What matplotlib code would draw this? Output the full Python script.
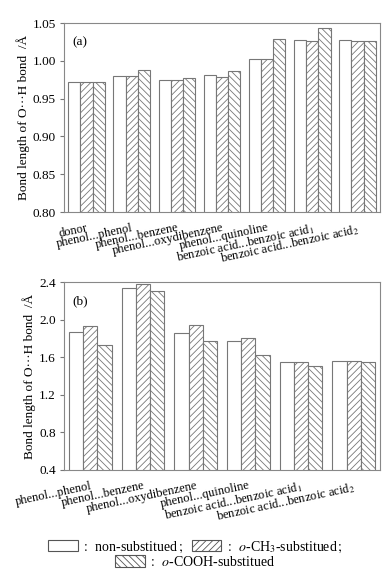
import numpy as np
import matplotlib
matplotlib.use('Agg')
import matplotlib.pyplot as plt
from matplotlib.patches import Patch

plt.rcParams['font.family'] = ['Liberation Serif', 'Noto Sans CJK SC']
plt.rcParams['mathtext.fontset'] = 'stix'
plt.rcParams['hatch.linewidth'] = 0.6
plt.rcParams['hatch.color'] = '#666666'

# panel (a): O-H bond length of the donor
cats_a = ['donor', 'phenol...phenol', 'phenol...benzene', 'phenol...oxydibenzene',
          'phenol...quinoline', 'benzoic acid...benzoic acid$_1$',
          'benzoic acid...benzoic acid$_2$']
non_a = [0.972, 0.980, 0.975, 0.981, 1.003, 1.028, 1.028]
ch3_a = [0.972, 0.980, 0.975, 0.979, 1.002, 1.026, 1.026]
cooh_a = [0.972, 0.988, 0.977, 0.987, 1.029, 1.043, 1.026]

# panel (b): O...H hydrogen bond length
cats_b = cats_a[1:]
non_b = [1.867, 2.338, 1.857, 1.772, 1.553, 1.563]
ch3_b = [1.928, 2.384, 1.945, 1.803, 1.553, 1.563]
cooh_b = [1.733, 2.300, 1.776, 1.623, 1.503, 1.553]

# mathtext can't fall back to the CJK font, so plain colon/semicolon here
series_names = ['$\\,:\\,$ non-substitued$\\,;$', '$\\,:\\,$ $o$-CH$_3$-substitued$\\,;$',
                '$\\,:\\,$ $o$-COOH-substitued']
hatches = ['', '/////', '\\\\\\\\\\']
edge = '#777777'
w = 0.27

fig = plt.figure(figsize=(3.91, 5.74), dpi=100)
ax1 = fig.add_axes([64/391, 1-212/574, 316/391, 189/574])
ax2 = fig.add_axes([64/391, 1-470/574, 316/391, 188/574])


def draw(ax, cats, data, ylim, yticks, fmt, label):
    x = np.arange(len(cats))
    for i, vals in enumerate(data):
        ax.bar(x + (i - 1) * w, vals, w, bottom=0, facecolor='white',
               edgecolor=edge, linewidth=0.8, hatch=hatches[i])
    ax.set_xlim(-0.5, len(cats) - 0.5)
    ax.set_ylim(*ylim)
    ax.set_yticks(yticks)
    ax.set_yticklabels([fmt % t for t in yticks], fontsize=9.5)
    ax.set_xticks(x)
    ax.set_xticklabels(cats, rotation=12, ha='right', rotation_mode='anchor',
                       fontsize=9)
    ax.tick_params(axis='x', length=0, pad=7)
    ax.tick_params(axis='y', direction='out', length=3, color=edge, pad=3)
    for s in ax.spines.values():
        s.set_color('#888888')
        s.set_linewidth(0.8)
    ax.set_ylabel('Bond length of O\u00b7\u00b7\u00b7H bond  /\u00c5', fontsize=9.5,
                  labelpad=2)
    ax.text(0.025, 0.9, label, transform=ax.transAxes, fontsize=9.5, va='center')


draw(ax1, cats_a, [non_a, ch3_a, cooh_a], (0.80, 1.05),
     [0.80, 0.85, 0.90, 0.95, 1.00, 1.05], '%.2f', '(a)')
draw(ax2, cats_b, [non_b, ch3_b, cooh_b], (0.4, 2.4),
     [0.4, 0.8, 1.2, 1.6, 2.0, 2.4], '%.1f', '(b)')

handles = [Patch(facecolor='white', edgecolor='#555555', linewidth=0.8, hatch=h)
           for h in hatches]
leg_kw = dict(frameon=False, fontsize=10, handlelength=2.1, handleheight=0.9,
              handletextpad=0.2, columnspacing=0.6, borderpad=0, borderaxespad=0)
fig.legend(handles[:2], series_names[:2], ncol=2, loc='center',
           bbox_to_anchor=(0.5, 1 - 547/574), **leg_kw)
fig.legend(handles[2:], series_names[2:], loc='center',
           bbox_to_anchor=(0.5, 1 - 562/574), **leg_kw)

fig.savefig('out.png', dpi=100)
